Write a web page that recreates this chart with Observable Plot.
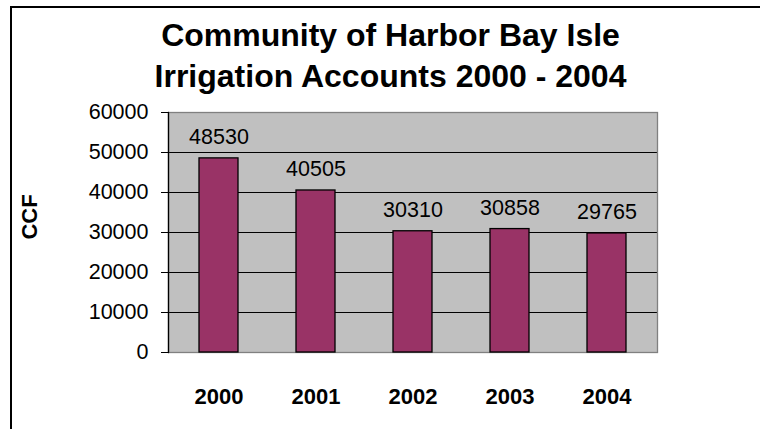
<!DOCTYPE html>
<html><head><meta charset="utf-8">
<script src="https://cdn.jsdelivr.net/npm/d3@7"></script>
<script src="https://cdn.jsdelivr.net/npm/@observablehq/plot@0.6"></script>
<style>
html,body{margin:0;padding:0;background:#fff;overflow:hidden;}
#wrap{position:relative;width:760px;height:429px;overflow:hidden;font-family:"Liberation Sans",Arial,sans-serif;background:#fff;}
#border{position:absolute;left:10px;top:6px;width:760px;height:430px;border-top:2px solid #000;border-left:2px solid #000;}
#chart{position:absolute;left:0;top:0;}
#title{position:absolute;left:20px;width:741px;top:15px;text-align:center;font-weight:bold;font-size:32px;line-height:41px;color:#000;white-space:nowrap;}
#ylabel{position:absolute;left:30px;top:217px;transform:translate(-50%,-50%) rotate(-90deg);font-weight:bold;font-size:22px;line-height:24px;color:#000;white-space:nowrap;}
</style></head>
<body>
<div id="wrap">
  <div id="border"></div>
  <div id="chart"></div>
  <div id="title">Community of Harbor Bay Isle<br>Irrigation Accounts 2000 - 2004</div>
  <div id="ylabel">CCF</div>
</div>
<script>
const years = ["2000", "2001", "2002", "2003", "2004"];
const values = [48530, 40505, 30310, 30858, 29765];
const yTicks = [0, 10000, 20000, 30000, 40000, 50000, 60000];
const yLabel = "CCF";

const data = years.map((year, i) => ({year, value: values[i]}));
const gridTicks = yTicks.slice(1, -1);

const chart = Plot.plot({
  width: 760,
  height: 429,
  marginLeft: 168,
  marginRight: 103,
  marginTop: 112,
  marginBottom: 77,
  style: {fontFamily: '"Liberation Sans", Arial, sans-serif', fontSize: "21.5px", color: "#000", background: "transparent", overflow: "visible"},
  x: {type: "band", domain: years, paddingInner: 0.6, paddingOuter: 0.3, label: null},
  y: {domain: [yTicks[0], yTicks[yTicks.length - 1]], label: null},
  marks: [
    Plot.frame({fill: "#C0C0C0", stroke: "none"}),
    Plot.gridY(gridTicks, {stroke: "#000", strokeOpacity: 1, strokeWidth: 1}),
    Plot.frame({stroke: "#808080", strokeWidth: 1.3}),
    Plot.frame({anchor: "left", stroke: "#000", strokeWidth: 1.3}),
    Plot.barY(data, {x: "year", y: "value", fill: "#993366", stroke: "#000", strokeWidth: 1.3, inset: 0}),
    Plot.text(data, {x: "year", y: "value", text: d => String(d.value), dy: -21, fontSize: 21.5, fill: "#000"}),
    Plot.axisY({ticks: yTicks, tickSize: 7, tickPadding: 13, fontSize: 21.5, tickFormat: d => String(d), stroke: "#000"}),
    Plot.axisX({tickSize: 0, tickPadding: 36, fontSize: 22, fontWeight: "bold"})
  ]
});
document.getElementById("chart").appendChild(chart);
document.getElementById("ylabel").textContent = yLabel;
</script>
</body></html>
